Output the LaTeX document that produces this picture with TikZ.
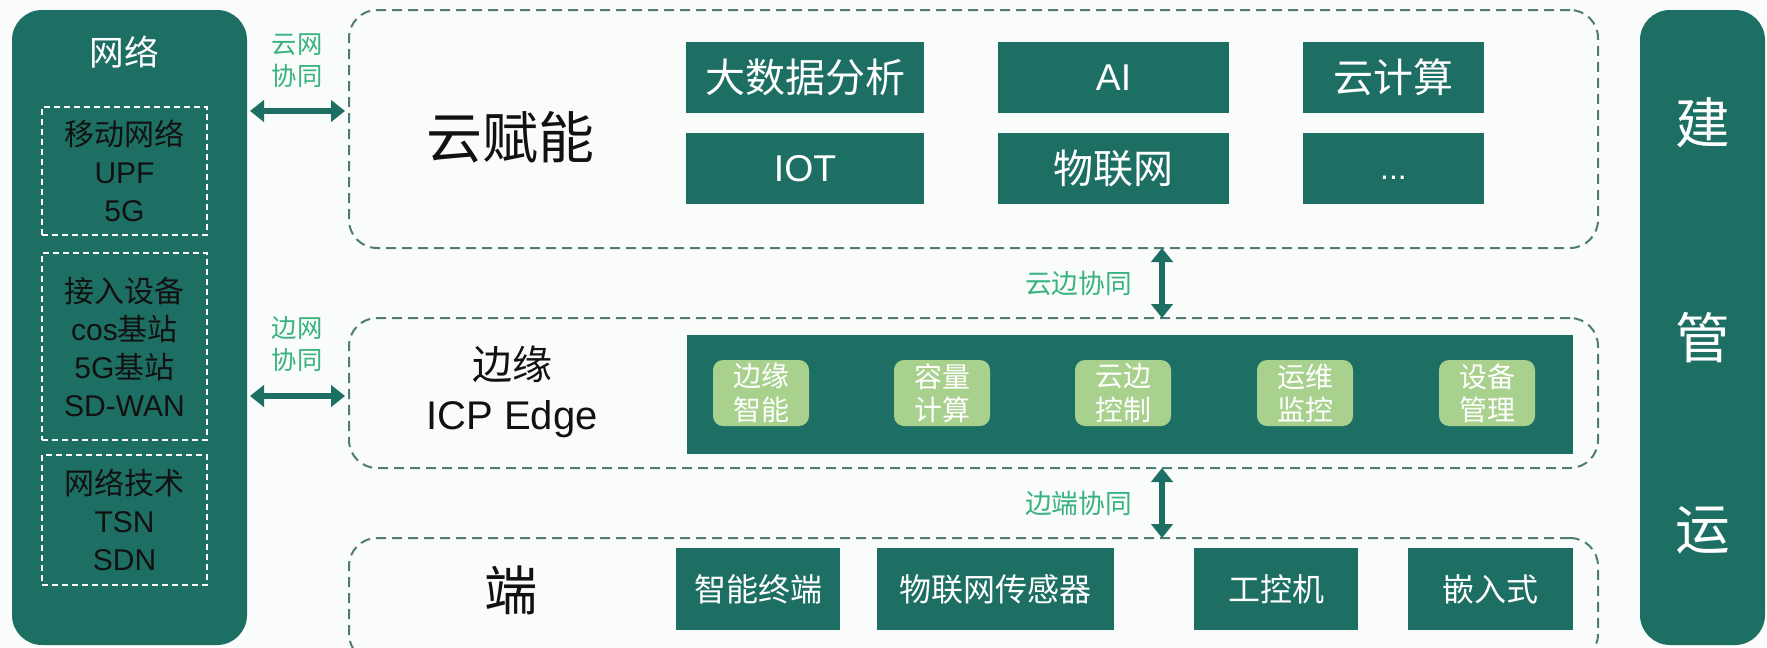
\documentclass[tikz,border=0pt]{standalone}
\usepackage{fontspec}
\setmainfont{Liberation Sans}
\newfontfamily\cjk{Noto Sans CJK SC}
\usetikzlibrary{arrows.meta}
\definecolor{tealc}{HTML}{1E6F63}
\definecolor{lgreen}{HTML}{A9D18E}
\definecolor{dashc}{HTML}{4F7C77}
\definecolor{labc}{HTML}{38B27F}
\definecolor{bgc}{HTML}{FAFBFB}
\definecolor{darkt}{HTML}{111111}
\newcommand\fs[2]{\fontsize{#1}{#2}\selectfont}
\begin{document}
\begin{tikzpicture}[x=0.75pt,y=-0.75pt,
  sz/.style 2 args={minimum width=#1*0.75pt, minimum height=#2*0.75pt},
  panel/.style={fill=tealc, rounded corners=22.5pt, inner sep=0pt, outer sep=0pt},
  dbox/.style={draw=dashc, dash pattern=on 7.5pt off 4.5pt, line width=1.5pt, rounded corners=21pt, inner sep=0pt, outer sep=0pt},
  wdbox/.style={draw=white, dash pattern=on 4.5pt off 3pt, line width=1pt, inner sep=0pt, text=darkt, align=center, font=\fs{22.5}{28.5}},
  tbox/.style={fill=tealc, inner sep=0pt, text=white},
  gbox/.style={fill=lgreen, rounded corners=7.5pt, inner sep=0pt, text=white, align=center, font=\fs{21}{25}\cjk},
  dbl/.style={draw=tealc, line width=5pt, {Triangle[length=10.5pt,width=16pt]}-{Triangle[length=10.5pt,width=16pt]}},
  lab/.style={text=labc, inner sep=0pt, font=\fs{19}{24}\cjk, align=center},
  bigt/.style={text=darkt, inner sep=0pt, align=center}
]
\useasboundingbox (0,0) rectangle (1767,647);
\fill[bgc] (0,0) rectangle (1767,647);

% left network panel
\node[panel, sz={235}{635}] (net) at (129.5,327.5) {};
\node[text=white, inner sep=0pt, font=\fs{26}{30}\cjk] (nettitle) at (124,52) {网络};
\node[wdbox, sz={165}{128}] (nb1) at (124.5,171) {{\cjk 移动网络}\\UPF\\5G};
\node[wdbox, sz={165}{187}] (nb2) at (124.5,346.5) {{\cjk 接入设备}\\cos{\cjk 基站}\\5G{\cjk 基站}\\SD-WAN};
\node[wdbox, sz={165}{130}] (nb3) at (124.5,520) {{\cjk 网络技术}\\TSN\\SDN};

% right panel
\node[panel, sz={125}{635}] (ops) at (1702.5,327.5) {};
\node[text=white, inner sep=0pt, font=\fs{41}{45}\cjk] (j1) at (1703,123) {建};
\node[text=white, inner sep=0pt, font=\fs{41}{45}\cjk] (j2) at (1703,338) {管};
\node[text=white, inner sep=0pt, font=\fs{41}{45}\cjk] (j3) at (1703,530) {运};

% dashed layer boxes
\node[dbox, sz={1249}{238}] (cloud) at (973.5,129) {};
\node[dbox, sz={1249}{150}] (edge) at (973.5,393) {};
\node[dbox, sz={1249}{124}] (endb) at (973.5,600) {};

% cloud layer
\node[bigt, font=\fs{42}{48}\cjk] (cloudt) at (510,137) {云赋能};
\node[tbox, sz={238}{71}, font=\fs{30}{36}\cjk] (c1) at (805,77.5) {大数据分析};
\node[tbox, sz={231}{71}, font=\fs{28}{32}] (c2) at (1113.5,77.5) {AI};
\node[tbox, sz={181}{71}, font=\fs{30}{36}\cjk] (c3) at (1393.5,77.5) {云计算};
\node[tbox, sz={238}{71}, font=\fs{28}{32}] (c4) at (805,168.5) {IOT};
\node[tbox, sz={231}{71}, font=\fs{30}{36}\cjk] (c5) at (1113.5,168.5) {物联网};
\node[tbox, sz={181}{71}, font=\fs{24}{30}] (c6) at (1393.5,168.5) {\vphantom{I}...};

% edge layer
\node[bigt, font=\fs{30}{37.5}] (edget) at (512,392) {{\cjk 边缘}\\ICP Edge};
\node[tbox, sz={886}{119}] (band) at (1130,394.5) {};
\node[gbox, sz={96}{66}] (e1) at (761,393) {边缘\\智能};
\node[gbox, sz={96}{66}] (e2) at (942,393) {容量\\计算};
\node[gbox, sz={96}{66}] (e3) at (1123,393) {云边\\控制};
\node[gbox, sz={96}{66}] (e4) at (1305,393) {运维\\监控};
\node[gbox, sz={96}{66}] (e5) at (1487,393) {设备\\管理};

% end layer
\node[bigt, font=\fs{40}{46}\cjk] (endt) at (511,590) {端};
\node[tbox, sz={164}{82}, font=\fs{24}{30}\cjk] (d1) at (758,589) {智能终端};
\node[tbox, sz={237}{82}, font=\fs{24}{30}\cjk] (d2) at (995.5,589) {物联网传感器};
\node[tbox, sz={164}{82}, font=\fs{24}{30}\cjk] (d3) at (1276,589) {工控机};
\node[tbox, sz={165}{82}, font=\fs{24}{30}\cjk] (d4) at (1490.5,589) {嵌入式};

% connectors
\coordinate (h1) at (0,111);
\coordinate (h2) at (0,396);
\coordinate (va) at (1162,0);
\draw[dbl, shorten <=2.25pt, shorten >=3pt] (h1 -| net.east) -- (h1 -| cloud.west);
\draw[dbl, shorten <=2.25pt, shorten >=3pt] (h2 -| net.east) -- (h2 -| edge.west);
\draw[dbl] (cloud.south -| va) -- (edge.north -| va);
\draw[dbl] (edge.south -| va) -- (endb.north -| va);

% connector labels
\node[lab] (l1) at (297,61) {云网\\协同};
\node[lab] (l2) at (297,344) {边网\\协同};
\node[lab, font=\fs{20}{24}\cjk, anchor=east] (l3) at (1132,283) {云边协同};
\node[lab, font=\fs{20}{24}\cjk, anchor=east] (l4) at (1132,503) {边端协同};
\end{tikzpicture}
\end{document}
